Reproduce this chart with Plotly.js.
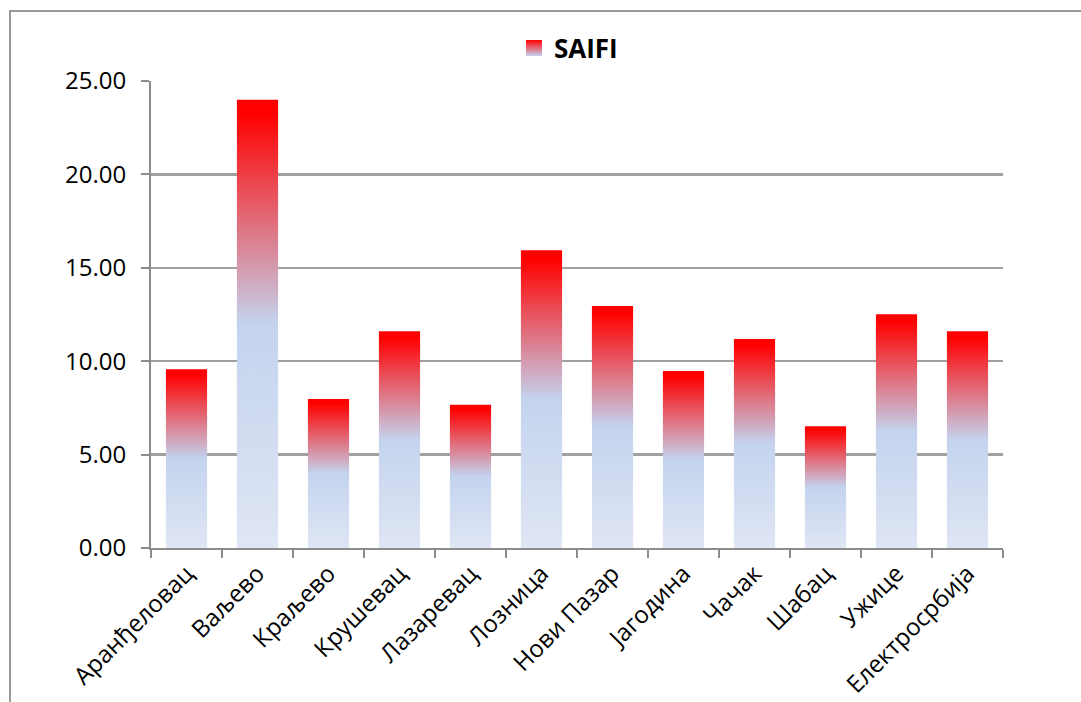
<!DOCTYPE html>
<html>
<head>
<meta charset="utf-8">
<script src="https://cdn.plot.ly/plotly-3.0.1.min.js"></script>
<style>
  html, body { margin: 0; padding: 0; background: #fff; }
  #chart { width: 1081px; height: 702px; }
</style>
</head>
<body>
<div id="chart"></div>
<script>
const categories = ["Аранђеловац", "Ваљево", "Краљево", "Крушевац", "Лазаревац", "Лозница",
                    "Нови Пазар", "Јагодина", "Чачак", "Шабац", "Ужице", "Електросрбија"];
const saifi = [9.57, 24.0, 7.98, 11.61, 7.67, 15.94, 12.96, 9.47, 11.19, 6.52, 12.52, 11.61];
const seriesName = "SAIFI";
const yTicks = [0, 5, 10, 15, 20, 25];

const barHalf = 0.29;
const gradient = [[0, '#dfe6f4'], [0.5, '#c4d3ee'], [0.97, '#ff0000'], [1, '#ff0000']];

const traces = categories.map((c, i) => {
  const v = saifi[i];
  return {
    type: 'scatter',
    mode: 'lines',
    x: [i - barHalf, i + barHalf, i + barHalf, i - barHalf, i - barHalf],
    y: [0, 0, v, v, 0],
    fill: 'toself',
    fillgradient: { type: 'vertical', colorscale: gradient, start: 0, stop: v },
    line: { width: 0, color: 'rgba(0,0,0,0)' },
    name: seriesName,
    legendgroup: 'saifi',
    showlegend: false,
    text: c,
    hoverinfo: 'text+y'
  };
});

// legend entry for the series (square gradient swatch)
traces.push({
  type: 'scatter',
  mode: 'markers',
  x: [null], y: [null],
  name: seriesName,
  legendgroup: 'saifi',
  showlegend: true,
  marker: { symbol: 'square', size: 18, color: '#ff0000',
            gradient: { type: 'vertical', color: '#c4d3ee' },
            line: { width: 0 } },
  hoverinfo: 'skip'
});

const idx = categories.map((c, i) => i);
const bounds = categories.map((c, i) => i - 0.5).concat([categories.length - 0.5]);

const M = { l: 151, r: 78, t: 81, b: 154 };
const W = 1081, H = 702;
const pw = W - M.l - M.r, ph = H - M.t - M.b;

const layout = {
  width: W, height: H,
  margin: M,
  paper_bgcolor: '#ffffff',
  plot_bgcolor: '#ffffff',
  font: { family: 'Open Sans, sans-serif', color: '#000' },
  showlegend: true,
  legend: {
    orientation: 'h',
    x: 0.49, xanchor: 'center',
    y: 1 + 33 / ph, yanchor: 'middle',
    font: { size: 26, family: 'Open Sans, sans-serif', weight: 'bold', color: '#000' },
    itemwidth: 30,
    bgcolor: 'rgba(0,0,0,0)'
  },
  xaxis: {
    range: [-0.5, categories.length - 0.5],
    tickmode: 'array',
    tickvals: idx,
    ticktext: categories,
    tickangle: -45,
    ticks: '',
    showgrid: false,
    zeroline: false,
    showline: true,
    linecolor: '#8c8c8c',
    linewidth: 2,
    tickfont: { size: 24, family: 'Open Sans, sans-serif', color: '#000' },
    minor: { tickmode: 'array', tickvals: bounds, ticks: 'outside', ticklen: 8, tickwidth: 2, tickcolor: '#8c8c8c', showgrid: false },
    fixedrange: true
  },
  yaxis: {
    range: [0, 25],
    tickmode: 'array',
    tickvals: yTicks,
    tickformat: '.2f',
    ticks: 'outside',
    ticklen: 8,
    tickwidth: 2,
    tickcolor: '#8c8c8c',
    showgrid: true,
    gridcolor: '#a0a0a0',
    gridwidth: 2.5,
    zeroline: false,
    showline: true,
    linecolor: '#8c8c8c',
    linewidth: 2,
    tickfont: { size: 24, family: 'Open Sans, sans-serif', color: '#000' },
    ticklabelstandoff: 10,
    fixedrange: true
  },
  shapes: [{
    type: 'rect', xref: 'paper', yref: 'paper', layer: 'above',
    x0: (10 - M.l) / pw, x1: (W + 50 - M.l) / pw,
    y0: -(H + 50 - M.t - ph) / ph, y1: (H - M.b - 11) / ph,
    line: { color: '#999999', width: 2 },
    fillcolor: 'rgba(0,0,0,0)'
  }]
};

Plotly.newPlot('chart', traces, layout, { displayModeBar: false, staticPlot: true });
</script>
</body>
</html>
